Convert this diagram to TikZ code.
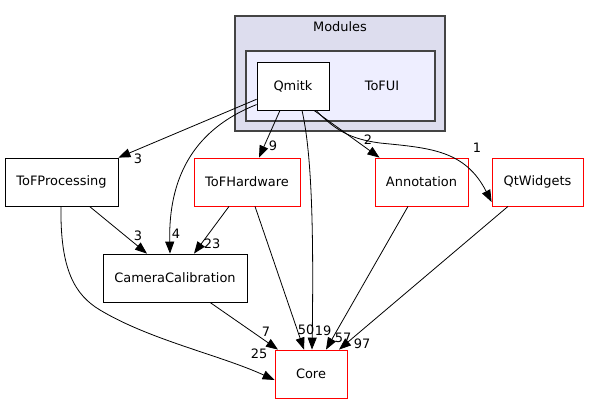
\documentclass[tikz,border=0pt]{standalone}
\usepackage{fontspec}
\setmainfont{DejaVu Sans}
\usetikzlibrary{arrows.meta}
\definecolor{modfill}{HTML}{DDDDEE}
\definecolor{uifill}{HTML}{EEEEFF}
\definecolor{clborder}{HTML}{444444}
\tikzset{
  dirbox/.style={draw=black, fill=white, minimum height=48bp, inner sep=0pt, line width=0.8bp, font=\fontsize{13}{15}\selectfont},
  redbox/.style={dirbox, draw=red},
  dep/.style={line width=0.8bp, -{Triangle[length=12bp,width=9bp]}},
  lbl/.style={inner sep=0pt, font=\fontsize{13}{15}\selectfont},
  cluster/.style={draw=clborder, line width=1.2bp}
}
\begin{document}
\begin{tikzpicture}[x=1bp,y=-1bp]
\useasboundingbox (0,0) rectangle (589,404);
% clusters
\draw[cluster, fill=modfill] (235,16) rectangle (445,131);
\node[lbl] (modlbl) at (340,27) {Modules};
\draw[cluster, fill=uifill] (246,51) rectangle (435,121);
\node[lbl] (uilbl) at (382,86) {ToFUI};
% nodes
\node[dirbox, minimum width=72bp] (Qmitk) at (293,86) {Qmitk};
\node[dirbox, minimum width=113bp] (ToFProcessing) at (61.5,182) {ToFProcessing};
\node[redbox, minimum width=106bp] (ToFHardware) at (247,182) {ToFHardware};
\node[redbox, minimum width=93bp] (Annotation) at (421.5,182) {Annotation};
\node[redbox, minimum width=91bp] (QtWidgets) at (537.5,182) {QtWidgets};
\node[dirbox, minimum width=144bp] (CameraCalibration) at (175,278) {CameraCalibration};
\node[redbox, minimum width=72bp] (Core) at (311,374) {Core};
% edges
\draw[dep] (Qmitk.200) -- (ToFProcessing.north east);
\node[lbl] (l1) at (138,159) {3};
\draw[dep] (Qmitk.207) .. controls (205,125) and (168,165) .. ([xshift=-5bp]CameraCalibration.north);
\node[lbl] (l2) at (176,234) {4};
\draw[dep] ([xshift=-13bp]Qmitk.south) -- ([xshift=12bp]ToFHardware.north);
\node[lbl] (l3) at (273,146) {9};
\draw[dep] ([xshift=9bp]Qmitk.south) .. controls (311,150) and (314,220) .. ([xshift=1bp]Core.north);
\node[lbl] (l4) at (323,331) {19};
\draw[dep] ([xshift=21bp]Qmitk.south) -- ([xshift=-42bp]Annotation.north);
\node[lbl] (l5) at (368,140) {2};
\draw[dep] ([xshift=23bp]Qmitk.south) .. controls (335,130) and (350,139) .. (380,143) .. controls (430,148) and (465,150) .. ([yshift=-20bp]QtWidgets.west);
\node[lbl] (l6) at (477,148) {1};
\draw[dep] ([xshift=28bp]ToFProcessing.south) -- ([xshift=-28bp]CameraCalibration.north);
\node[lbl] (l7) at (138,236) {3};
\draw[dep] ([xshift=-0.5bp]ToFProcessing.south) .. controls (60,270) and (75,295) .. (100,310) .. controls (150,340) and (220,355) .. ([yshift=-6bp]Core.west);
\node[lbl] (l8) at (259,354) {25};
\draw[dep] ([xshift=-18bp]ToFHardware.south) -- ([xshift=19bp]CameraCalibration.north);
\node[lbl] (l9) at (212,244) {23};
\draw[dep] ([xshift=8bp]ToFHardware.south) -- ([xshift=-7bp]Core.north);
\node[lbl] (l10) at (306,330) {50};
\draw[dep] ([xshift=35bp]CameraCalibration.south) -- ([xshift=-33bp]Core.north);
\node[lbl] (l11) at (266,332) {7};
\draw[dep] ([xshift=-13.5bp]Annotation.south) -- ([xshift=15bp]Core.north);
\node[lbl] (l12) at (343,338) {57};
\draw[dep] ([xshift=-29.5bp]QtWidgets.south) -- ([xshift=28bp]Core.north);
\node[lbl] (l13) at (362,344) {97};
\end{tikzpicture}
\end{document}
